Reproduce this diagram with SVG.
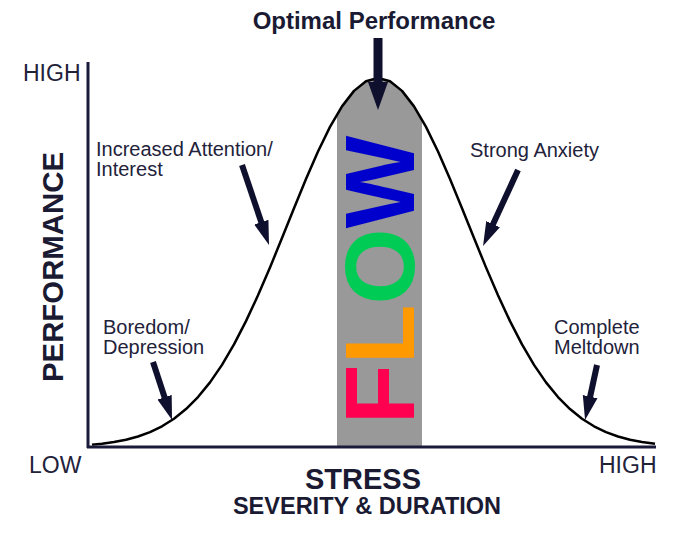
<svg xmlns="http://www.w3.org/2000/svg" width="675" height="533" viewBox="0 0 675 533">
<style>
.lbl{font-family:"Liberation Sans",Arial,sans-serif;font-size:20px;fill:#22223a}
.ax{font-family:"Liberation Sans",Arial,sans-serif;font-size:23px;fill:#22223a}
.bold{font-family:"Liberation Sans",Arial,sans-serif;font-weight:bold;fill:#1a1a33}
.flow{font-family:"Liberation Sans",Arial,sans-serif;font-weight:bold;font-size:98px}
.arr{stroke:#0f0f2e;stroke-width:6;fill:none}
.axis{stroke:#1a1a3a;stroke-width:3;fill:none}
</style>
<defs>
<marker id="head" markerUnits="userSpaceOnUse" viewBox="0 -8 24 16" markerWidth="24" markerHeight="16" refX="4" refY="0" orient="auto">
<path d="M0,-7.5 L24,0 L0,7.5 Z" fill="#0f0f2e"/>
</marker>
<marker id="bighead" markerUnits="userSpaceOnUse" viewBox="0 -10 28 20" markerWidth="28" markerHeight="20" refX="4" refY="0" orient="auto">
<path d="M0,-10 L28,0 L0,10 Z" fill="#0f0f2e"/>
</marker>
</defs>
<rect width="675" height="533" fill="#ffffff"/>
<g id="flow-band">
<path d="M337,447 L337,114.4 L342,106.37 L354,90.89 L366,81.26 L378,78 L390,81.26 L402,90.89 L414,106.37 L422,119.6 L422,447 Z" fill="#999999"/>
<text class="flow" transform="translate(414,280) rotate(-90)" text-anchor="middle"><tspan fill="#ff0050">F</tspan><tspan fill="#ff9900">L</tspan><tspan fill="#00cc55">O</tspan><tspan fill="#0000cc">W</tspan></text>
</g>
<g id="axes">
<line class="axis" x1="88" y1="62" x2="88" y2="448"/>
<line class="axis" x1="87" y1="447" x2="656" y2="447"/>
</g>
<g id="curve">
<path d="M92,444.63 L102,443.65 L114,442 L126,439.68 L138,436.46 L150,432.1 L162,426.29 L174,418.73 L186,409.08 L198,397.06 L210,382.38 L222,364.85 L234,344.4 L246,321.13 L258,295.3 L270,267.39 L282,238.09 L294,208.29 L306,179.05 L318,151.53 L330,126.92 L342,106.37 L354,90.89 L366,81.26 L378,78 L390,81.26 L402,90.89 L414,106.37 L426,126.92 L438,151.53 L450,179.05 L462,208.29 L474,238.09 L486,267.39 L498,295.3 L510,321.13 L522,344.4 L534,364.85 L546,382.38 L558,397.06 L570,409.08 L582,418.73 L594,426.29 L606,432.1 L618,436.46 L630,439.68 L642,442 L655,443.7" fill="none" stroke="#000000" stroke-width="2.5" stroke-linejoin="round"/>
</g>
<g id="connectors">
<line class="arr" x1="378" y1="38" x2="378" y2="86" style="stroke-width:9" marker-end="url(#bighead)"/>
<line class="arr" x1="242" y1="165" x2="262.6" y2="226" marker-end="url(#head)"/>
<line class="arr" x1="518" y1="170" x2="491.4" y2="227.8" marker-end="url(#head)"/>
<line class="arr" x1="153" y1="362" x2="165.8" y2="401" marker-end="url(#head)"/>
<line class="arr" x1="597" y1="365" x2="589.3" y2="400.5" marker-end="url(#head)"/>
</g>
<g id="optimal">
<text class="bold" x="374" y="29" font-size="24" text-anchor="middle">Optimal Performance</text>
</g>
<g id="increased">
<text class="lbl" x="96" y="156">Increased Attention/</text>
<text class="lbl" x="96" y="176">Interest</text>
</g>
<g id="anxiety">
<text class="lbl" x="470" y="157">Strong Anxiety</text>
</g>
<g id="boredom">
<text class="lbl" x="103" y="334">Boredom/</text>
<text class="lbl" x="103" y="354">Depression</text>
</g>
<g id="meltdown">
<text class="lbl" x="554" y="334">Complete</text>
<text class="lbl" x="554" y="354">Meltdown</text>
</g>
<g id="axis-labels">
<text class="ax" x="23" y="81">HIGH</text>
<text class="ax" x="29" y="473">LOW</text>
<text class="ax" x="599" y="473">HIGH</text>
<text class="bold" font-size="29" transform="translate(63,267) rotate(-90)" text-anchor="middle" textLength="230" lengthAdjust="spacingAndGlyphs">PERFORMANCE</text>
<text class="bold" x="363" y="489" font-size="29" text-anchor="middle">STRESS</text>
<text class="bold" x="367" y="514" font-size="23.5" text-anchor="middle">SEVERITY &amp; DURATION</text>
</g>
</svg>
